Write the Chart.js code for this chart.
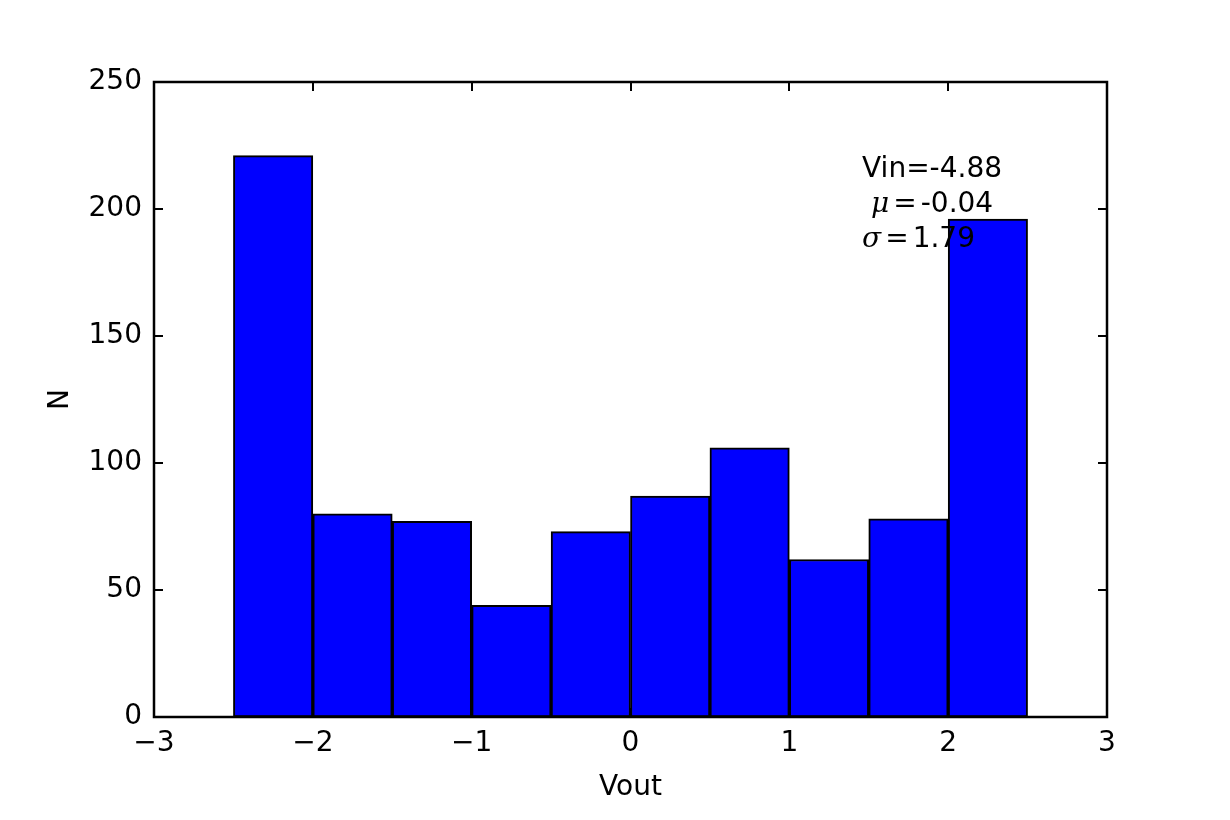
<!DOCTYPE html>
<html>
<head>
<meta charset="utf-8">
<script src="https://cdn.jsdelivr.net/npm/chart.js@4.4.0/dist/chart.umd.min.js"></script>
<style>
  html, body { margin: 0; padding: 0; background: #fff; }
  #wrap { width: 1230px; height: 820px; }
</style>
</head>
<body>
<div id="wrap"><canvas id="hist"></canvas></div>
<script>
// histogram of Vout
var binEdges = [-2.5, -2.0, -1.5, -1.0, -0.5, 0.0, 0.5, 1.0, 1.5, 2.0, 2.5];
var counts = [221, 80, 77, 44, 73, 87, 106, 62, 78, 196];
var xTicks = [-3, -2, -1, 0, 1, 2, 3];
var yTicks = [0, 50, 100, 150, 200, 250];
var statLines = [
    { sym: '', label: 'Vin=-4.88' },
    { sym: '\u03bc', label: '-0.04' },
    { sym: '\u03c3', label: '1.79' }
];

var points = [];
for (var i = 0; i < counts.length; i++) {
    points.push({ x: (binEdges[i] + binEdges[i + 1]) / 2, y: counts[i] });
}

var fontFamily = "'DejaVu Sans', sans-serif";

var frameTicks = {
    id: 'frameTicks',
    afterDatasetsDraw: function(chart) {
        var ctx = chart.ctx;
        var a = chart.chartArea;
        var xs = chart.scales.x, ys = chart.scales.y;
        var len = 9;
        ctx.save();
        ctx.strokeStyle = '#000';
        ctx.lineWidth = 2;
        ctx.beginPath();
        xTicks.forEach(function(v) {
            var px = Math.round(xs.getPixelForValue(v));
            ctx.moveTo(px, a.bottom); ctx.lineTo(px, a.bottom - len);
            ctx.moveTo(px, a.top); ctx.lineTo(px, a.top + len);
        });
        yTicks.forEach(function(v) {
            var py = Math.round(ys.getPixelForValue(v));
            ctx.moveTo(a.left, py); ctx.lineTo(a.left + len, py);
            ctx.moveTo(a.right, py); ctx.lineTo(a.right - len, py);
        });
        ctx.stroke();
        ctx.lineWidth = 2.5;
        ctx.strokeRect(a.left, a.top, a.right - a.left, a.bottom - a.top);
        ctx.restore();
    },
    afterDraw: function(chart) {
        var ctx = chart.ctx;
        var xs = chart.scales.x, ys = chart.scales.y;
        var x0 = xs.getPixelForValue(1.458);
        var y0 = ys.getPixelForValue(215.5);
        var lh = 35;
        ctx.save();
        ctx.fillStyle = '#000';
        ctx.textBaseline = 'middle';
        ctx.textAlign = 'left';
        statLines.forEach(function(l, k) {
            var y = y0 + k * lh;
            var x = x0;
            if (l.sym) {
                if (k === 1) x += 9;
                ctx.font = "italic 28px 'DejaVu Serif', serif";
                ctx.fillText(l.sym, x, y);
                x += ctx.measureText(l.sym).width + 4;
                ctx.font = "28px 'DejaVu Serif', serif";
                ctx.fillText('=', x, y);
                x += ctx.measureText('=').width + 4;
            }
            ctx.font = "28px " + fontFamily;
            ctx.fillText(l.label, x, y);
        });
        ctx.restore();
    }
};

var chart = new Chart(document.getElementById('hist'), {
    type: 'bar',
    data: {
        datasets: [{
            data: points,
            backgroundColor: '#0000ff',
            borderColor: '#000',
            borderWidth: 2,
            borderSkipped: false,
            barPercentage: 1.0,
            categoryPercentage: 1.0
        }]
    },
    options: {
        responsive: true,
        maintainAspectRatio: false,
        animation: false,
        devicePixelRatio: 1,
        layout: { padding: { top: 82, right: 123, left: 0, bottom: 0 } },
        plugins: {
            legend: { display: false },
            tooltip: { enabled: false }
        },
        scales: {
            x: {
                type: 'linear',
                offset: false,
                min: -3,
                max: 3,
                afterBuildTicks: function(scale) {
                    scale.ticks = xTicks.map(function(v) { return { value: v }; });
                },
                afterFit: function(scale) { scale.height = 103; },
                grid: { display: false, drawTicks: false, offset: false },
                border: { display: false },
                ticks: {
                    padding: 10,
                    color: '#000',
                    font: { family: fontFamily, size: 28 },
                    callback: function(v) { return v < 0 ? '\u2212' + Math.abs(v) : String(v); }
                },
                title: {
                    display: true,
                    text: 'Vout',
                    color: '#000',
                    font: { family: fontFamily, size: 28 },
                    padding: { top: 0, bottom: 15 }
                }
            },
            y: {
                min: 0,
                max: 250,
                afterBuildTicks: function(scale) {
                    scale.ticks = yTicks.map(function(v) { return { value: v }; });
                },
                afterFit: function(scale) { scale.width = 154; },
                grid: { display: false, drawTicks: false },
                border: { display: false },
                ticks: {
                    padding: 12,
                    color: '#000',
                    font: { family: fontFamily, size: 28 }
                },
                title: {
                    display: true,
                    text: 'N',
                    color: '#000',
                    font: { family: fontFamily, size: 28 },
                    padding: { top: 44, bottom: 0 }
                }
            }
        }
    },
    plugins: [frameTicks]
});
</script>
</body>
</html>
